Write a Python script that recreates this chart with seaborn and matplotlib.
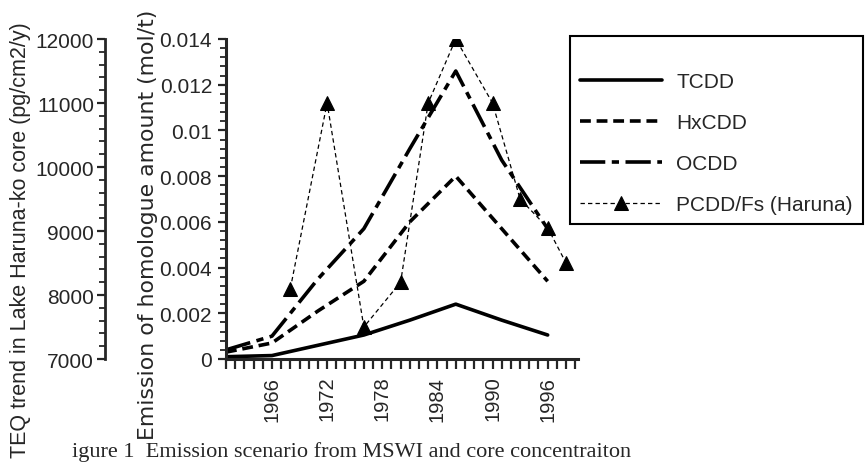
import pandas as pd
import matplotlib
matplotlib.use('Agg')
import matplotlib.pyplot as plt
from matplotlib.ticker import MultipleLocator, FuncFormatter
import seaborn as sns

# emission scenario (mol/t)
years = [1961, 1966, 1971, 1976, 1981, 1986, 1991, 1996]
tcdd = [0.0001, 0.00015, 0.0006, 0.00105, 0.0017, 0.0024, 0.0017, 0.00105]
hxcdd = [0.0003, 0.0007, 0.0021, 0.0034, 0.006, 0.008, 0.0057, 0.0034]
ocdd = [0.0004, 0.001, 0.0035, 0.0057, 0.0092, 0.0126, 0.0087, 0.0057]

# TEQ in the Lake Haruna-ko core
core_years = [1968, 1972, 1976, 1980, 1983, 1986, 1990, 1993, 1996, 1998]
core_teq = [8100, 11000, 7500, 8200, 11000, 12000, 11000, 9500, 9050, 8500]

year_ticks = [1966, 1972, 1978, 1984, 1990, 1996]
emis_ticks = [0, 0.002, 0.004, 0.006, 0.008, 0.01, 0.012, 0.014]
teq_ticks = [7000, 8000, 9000, 10000, 11000, 12000]

df = pd.DataFrame({'year': years, 'TCDD': tcdd, 'HxCDD': hxcdd, 'OCDD': ocdd})
df_core = pd.DataFrame({'year': core_years, 'teq': core_teq})

sns.set_style('ticks')
plt.rcParams['font.family'] = ['Liberation Sans', 'DejaVu Sans']

fig = plt.figure(figsize=(8.68, 4.64), dpi=100)
ax = fig.add_axes([226/868, 1-360/464, (578-226)/868, (360-40)/464])
ax2 = ax.twinx()

sns.lineplot(data=df, x='year', y='TCDD', ax=ax, color='black', linewidth=2.6,
             label='TCDD', legend=False)
sns.lineplot(data=df, x='year', y='HxCDD', ax=ax, color='black', linewidth=2.6,
             linestyle=(0, (3, 1.6)), label='HxCDD', legend=False)
sns.lineplot(data=df, x='year', y='OCDD', ax=ax, color='black', linewidth=2.6,
             linestyle=(0, (7, 1.8, 2, 1.8)), label='OCDD', legend=False)
sns.lineplot(data=df_core, x='year', y='teq', ax=ax2, color='black', linewidth=0.9,
             linestyle=(0, (3.5, 2.5)), marker='^', markersize=9.5,
             markeredgecolor='black', markerfacecolor='black',
             label='PCDD/Fs (Haruna)', legend=False)

# emission axis
ax.set_xlim(1961, 1999.3)
ax.set_ylim(0, 0.014)
ax.set_yticks(emis_ticks)
ax.yaxis.set_major_formatter(FuncFormatter(lambda v, p: '{:g}'.format(round(v, 4))))
ax.yaxis.set_minor_locator(MultipleLocator(0.0004))
ax.set_xticks(year_ticks)
ax.set_xticklabels([str(y) for y in year_ticks], rotation=90)
ax.xaxis.set_minor_locator(MultipleLocator(1))
ax.set_xlabel('')
ax.set_ylabel('')
for s in ['top', 'right']:
    ax.spines[s].set_visible(False)
ax.spines['left'].set_linewidth(2.2)
ax.spines['bottom'].set_linewidth(2.2)
ax.tick_params(axis='y', which='major', labelsize=15, length=6, width=1.6, direction='out', pad=4)
ax.tick_params(axis='y', which='minor', length=4, width=1.3, direction='out')
ax.tick_params(axis='x', which='major', labelsize=14.5, length=7, width=1.6, direction='out', pad=5)
ax.tick_params(axis='x', which='minor', length=7, width=1.6, direction='out')

# TEQ axis, drawn further to the left
ax2.set_ylim(7000, 12000)
ax2.set_yticks(teq_ticks)
ax2.yaxis.set_minor_locator(MultipleLocator(200))
ax2.yaxis.set_ticks_position('left')
ax2.spines['left'].set_position(('outward', 87))
ax2.spines['left'].set_linewidth(2.0)
for s in ['top', 'right', 'bottom']:
    ax2.spines[s].set_visible(False)
ax2.tick_params(axis='y', which='major', labelsize=15, length=6, width=1.6, direction='out', pad=2)
ax2.tick_params(axis='y', which='minor', length=4, width=1.3, direction='out')
ax2.set_ylabel('')
ax2.set_xlabel('')

fig.text(21/868, 1-240/464, 'TEQ trend in Lake Haruna-ko core (pg/cm2/y)',
         rotation=90, ha='center', va='center', fontsize=15.5)
fig.text(148/868, 1-440/464, 'Emission of homologue amount (mol/t)',
         rotation=90, ha='center', va='bottom', fontsize=15.8, family='DejaVu Sans')
fig.text(72/868, 7/464, 'igure 1  Emission scenario from MSWI and core concentraiton',
         ha='left', va='baseline', fontsize=16, family='Liberation Serif')

h1, l1 = ax.get_legend_handles_labels()
h2, l2 = ax2.get_legend_handles_labels()
leg = fig.legend(h1 + h2, l1 + l2, loc='upper left', bbox_to_anchor=(570/868, 1-37/464),
                 borderaxespad=0, fontsize=15, handlelength=3.9, handletextpad=0.7,
                 borderpad=0.5, labelspacing=1.05, title=' ', title_fontsize=2,
                 frameon=True, fancybox=False, edgecolor='black', framealpha=1)
leg.get_frame().set_linewidth(1.5)

fig.savefig('out.png', dpi=100)
